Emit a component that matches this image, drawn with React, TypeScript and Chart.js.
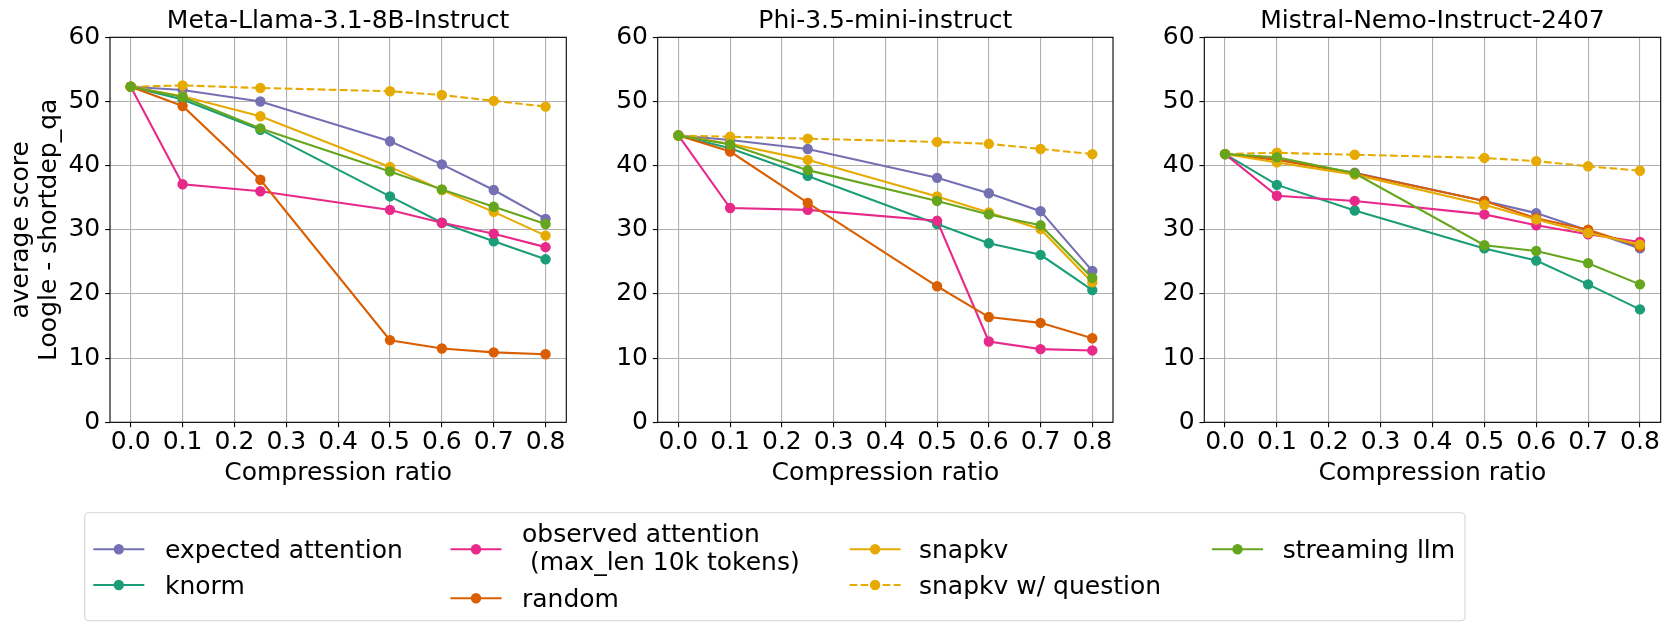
import React, { useEffect, useRef } from "react";
import { Chart, registerables } from "chart.js";

Chart.register(...registerables);

// ---------------- data ----------------
const COMPRESSION_RATIOS = [0, 0.1, 0.25, 0.5, 0.6, 0.7, 0.8];
const X_TICKS = [0, 0.1, 0.2, 0.3, 0.4, 0.5, 0.6, 0.7, 0.8];
const Y_TICKS = [0, 10, 20, 30, 40, 50, 60];
const MODELS = ["Meta-Llama-3.1-8B-Instruct", "Phi-3.5-mini-instruct", "Mistral-Nemo-Instruct-2407"];
const METHODS = [
  "expected attention",
  "knorm",
  "observed attention\n (max_len 10k tokens)",
  "random",
  "snapkv",
  "snapkv w/ question",
  "streaming llm",
];
const COLORS = ["#7570b3", "#1b9e77", "#e7298a", "#d95f02", "#e6ab02", "#e6ab02", "#66a61e"];
const DASHED = [false, false, false, false, false, true, false];
const X_LABEL = "Compression ratio";
const Y_LABEL = ["average score", "Loogle - shortdep_qa"];

// Meta-Llama-3.1-8B-Instruct
const LLAMA_EXPECTED = [52.3, 51.8, 50.0, 43.8, 40.2, 36.2, 31.7];
const LLAMA_KNORM = [52.3, 50.3, 45.6, 35.2, 31.1, 28.2, 25.4];
const LLAMA_OBSERVED = [52.3, 37.1, 36.0, 33.1, 31.1, 29.4, 27.3];
const LLAMA_RANDOM = [52.3, 49.3, 37.8, 12.8, 11.5, 10.9, 10.6];
const LLAMA_SNAPKV = [52.3, 50.8, 47.7, 39.8, 36.2, 32.8, 29.1];
const LLAMA_SNAPKV_Q = [52.3, 52.5, 52.1, 51.6, 51.0, 50.1, 49.2];
const LLAMA_STREAMING = [52.3, 50.7, 45.8, 39.1, 36.3, 33.6, 30.9];

// Phi-3.5-mini-instruct
const PHI_EXPECTED = [44.7, 44.0, 42.6, 38.1, 35.7, 32.9, 23.6];
const PHI_KNORM = [44.7, 42.7, 38.4, 30.9, 27.9, 26.1, 20.6];
const PHI_OBSERVED = [44.7, 33.4, 33.1, 31.4, 12.6, 11.4, 11.2];
const PHI_RANDOM = [44.7, 42.2, 34.2, 21.2, 16.4, 15.5, 13.1];
const PHI_SNAPKV = [44.7, 43.4, 40.9, 35.2, 32.7, 30.1, 21.8];
const PHI_SNAPKV_Q = [44.7, 44.5, 44.2, 43.7, 43.4, 42.6, 41.8];
const PHI_STREAMING = [44.7, 43.3, 39.3, 34.5, 32.4, 30.7, 22.5];

// Mistral-Nemo-Instruct-2407
const MISTRAL_EXPECTED = [41.8, 41.0, 38.9, 34.5, 32.6, 29.9, 27.1];
const MISTRAL_KNORM = [41.8, 37.0, 33.0, 27.1, 25.2, 21.5, 17.6];
const MISTRAL_OBSERVED = [41.8, 35.3, 34.5, 32.4, 30.7, 29.3, 28.1];
const MISTRAL_RANDOM = [41.8, 40.9, 38.8, 34.5, 31.8, 30.0, 27.4];
const MISTRAL_SNAPKV = [41.8, 40.5, 38.6, 33.9, 31.6, 29.5, 27.7];
const MISTRAL_SNAPKV_Q = [41.8, 42.0, 41.7, 41.2, 40.7, 39.9, 39.2];
const MISTRAL_STREAMING = [41.8, 41.3, 38.8, 27.6, 26.7, 24.8, 21.5];

const SERIES_BY_MODEL = [
  [LLAMA_EXPECTED, LLAMA_KNORM, LLAMA_OBSERVED, LLAMA_RANDOM, LLAMA_SNAPKV, LLAMA_SNAPKV_Q, LLAMA_STREAMING],
  [PHI_EXPECTED, PHI_KNORM, PHI_OBSERVED, PHI_RANDOM, PHI_SNAPKV, PHI_SNAPKV_Q, PHI_STREAMING],
  [MISTRAL_EXPECTED, MISTRAL_KNORM, MISTRAL_OBSERVED, MISTRAL_RANDOM, MISTRAL_SNAPKV, MISTRAL_SNAPKV_Q, MISTRAL_STREAMING],
];

// ---------------- style / layout ----------------
const FONT = "'DejaVu Sans', 'Liberation Sans', sans-serif";
const FS = 25;
const GRID = "#b0b0b0";
const LW = 2.08;
const PT_R = 4.5;
const PT_BW = 1.4;
const DASH = [7.7, 3.3];

const CANVAS_LEFT = [0, 590, 1140];
const CANVAS_W = [580, 540, 529];
const CANVAS_H = 500;
const Y_AXIS_W = [110, 67.7, 64.3];
const PAD_RIGHT = [13.7, 17, 8.3];
const X_AXIS_H = 66.5;
const PAD_BOTTOM = CANVAS_H - 422.3 - X_AXIS_H;

const framePlugin = {
  id: "frame",
  afterDatasetsDraw(chart: any) {
    const { ctx, chartArea: a } = chart;
    ctx.save();
    ctx.strokeStyle = "#000";
    ctx.lineWidth = 1.1;
    ctx.strokeRect(a.left, a.top, a.right - a.left, a.bottom - a.top);
    ctx.restore();
  },
};

function Panel({ idx }: { idx: number }) {
  const ref = useRef<HTMLCanvasElement | null>(null);
  useEffect(() => {
    if (!ref.current) return;
    const n = METHODS.length;
    const datasets = METHODS.map((m, i) => ({
      label: m,
      data: COMPRESSION_RATIOS.map((x, j) => ({ x, y: SERIES_BY_MODEL[idx][i][j] })),
      borderColor: COLORS[i],
      backgroundColor: COLORS[i],
      pointBackgroundColor: COLORS[i],
      pointBorderColor: COLORS[i],
      borderWidth: LW,
      pointRadius: PT_R,
      pointBorderWidth: PT_BW,
      pointHoverRadius: PT_R,
      borderDash: DASHED[i] ? DASH : [],
      tension: 0,
      fill: false,
      order: n - i,
    }));
    const tickFont = { family: FONT, size: FS, weight: "normal" as const, lineHeight: 1.2 };
    const chart = new Chart(ref.current, {
      type: "line",
      data: { datasets },
      options: {
        responsive: false,
        animation: false,
        devicePixelRatio: 1,
        events: [],
        layout: { padding: { left: 0, top: 0, right: PAD_RIGHT[idx], bottom: PAD_BOTTOM } },
        plugins: {
          legend: { display: false },
          tooltip: { enabled: false },
          title: {
            display: true,
            fullSize: false,
            text: MODELS[idx],
            color: "#000",
            font: { family: FONT, size: FS, weight: "normal", lineHeight: 1.2 },
            padding: { top: 6.5, bottom: 0.8 },
          },
        },
        scales: {
          x: {
            type: "linear",
            min: -0.04,
            max: 0.84,
            afterBuildTicks: (s: any) => {
              s.ticks = X_TICKS.map((v) => ({ value: v }));
            },
            afterFit: (s: any) => {
              s.height = X_AXIS_H;
            },
            ticks: {
              callback: (v: any) => Number(v).toFixed(1),
              color: "#000",
              font: tickFont,
              padding: 0,
              maxRotation: 0,
              autoSkip: false,
            },
            grid: {
              color: GRID,
              lineWidth: 1.1,
              tickColor: "#000",
              tickLength: 4.86,
              tickWidth: 1.1,
              drawTicks: true,
            },
            border: { display: false },
            title: {
              display: true,
              text: X_LABEL,
              color: "#000",
              font: tickFont,
              padding: { top: 0, bottom: 0 },
            },
          },
          y: {
            type: "linear",
            min: 0,
            max: 60,
            afterBuildTicks: (s: any) => {
              s.ticks = Y_TICKS.map((v) => ({ value: v }));
            },
            afterFit: (s: any) => {
              s.width = Y_AXIS_W[idx];
            },
            ticks: {
              callback: (v: any) => String(v),
              color: "#000",
              font: tickFont,
              padding: 4.86,
              autoSkip: false,
            },
            grid: {
              color: GRID,
              lineWidth: 1.1,
              tickColor: "#000",
              tickLength: 4.86,
              tickWidth: 1.1,
              drawTicks: true,
            },
            border: { display: false },
            title: {
              display: idx === 0,
              text: Y_LABEL,
              color: "#000",
              font: { family: FONT, size: FS, weight: "normal", lineHeight: 1.12 },
              padding: { top: 7, bottom: 0 },
            },
          },
        },
      },
      plugins: [framePlugin],
    } as any);
    return () => chart.destroy();
  }, [idx]);
  return (
    <canvas
      ref={ref}
      width={CANVAS_W[idx]}
      height={CANVAS_H}
      style={{
        position: "absolute",
        left: CANVAS_LEFT[idx],
        top: 0,
        width: CANVAS_W[idx],
        height: CANVAS_H,
        display: "block",
      }}
    />
  );
}

// legend layout: handle start x, handle y, text x, text baselines
const LEGEND_POS = [
  { hx: 93.3, hy: 549.3, tx: 165, base: [558.3] },
  { hx: 93.3, hy: 585, tx: 165, base: [594] },
  { hx: 450.5, hy: 549.3, tx: 522, base: [541.7, 569.5] },
  { hx: 450.5, hy: 598.3, tx: 522, base: [607] },
  { hx: 849.6, hy: 549.3, tx: 919, base: [558.3] },
  { hx: 849.6, hy: 585, tx: 919, base: [594] },
  { hx: 1212, hy: 549.3, tx: 1282.7, base: [558.3] },
];
const HANDLE_LEN = 51;

function Legend() {
  return (
    <svg
      width={1669}
      height={631}
      style={{ position: "absolute", left: 0, top: 0, pointerEvents: "none" }}
    >
      <rect
        x={84.7}
        y={512.7}
        width={1380.3}
        height={108}
        rx={4}
        ry={4}
        fill="#fff"
        stroke="#d5d5d5"
        strokeWidth={1.1}
      />
      {METHODS.map((m, i) => {
        const p = LEGEND_POS[i];
        const lines = m.split("\n");
        return (
          <g key={i}>
            <line
              x1={p.hx}
              y1={p.hy}
              x2={p.hx + HANDLE_LEN}
              y2={p.hy}
              stroke={COLORS[i]}
              strokeWidth={LW}
              strokeDasharray={DASHED[i] ? DASH.join(" ") : undefined}
            />
            <circle
              cx={p.hx + HANDLE_LEN / 2}
              cy={p.hy}
              r={PT_R}
              fill={COLORS[i]}
              stroke={COLORS[i]}
              strokeWidth={PT_BW}
            />
            {lines.map((ln, k) => (
              <text
                key={k}
                x={p.tx}
                y={p.base[k]}
                fontFamily={FONT}
                fontSize={FS}
                fill="#000"
                style={{ whiteSpace: "pre" }}
              >
                {ln}
              </text>
            ))}
          </g>
        );
      })}
    </svg>
  );
}

export default function App() {
  return (
    <div
      style={{
        position: "absolute",
        left: 0,
        top: 0,
        width: 1669,
        height: 631,
        background: "#fff",
        overflow: "hidden",
      }}
    >
      <Panel idx={0} />
      <Panel idx={1} />
      <Panel idx={2} />
      <Legend />
    </div>
  );
}
